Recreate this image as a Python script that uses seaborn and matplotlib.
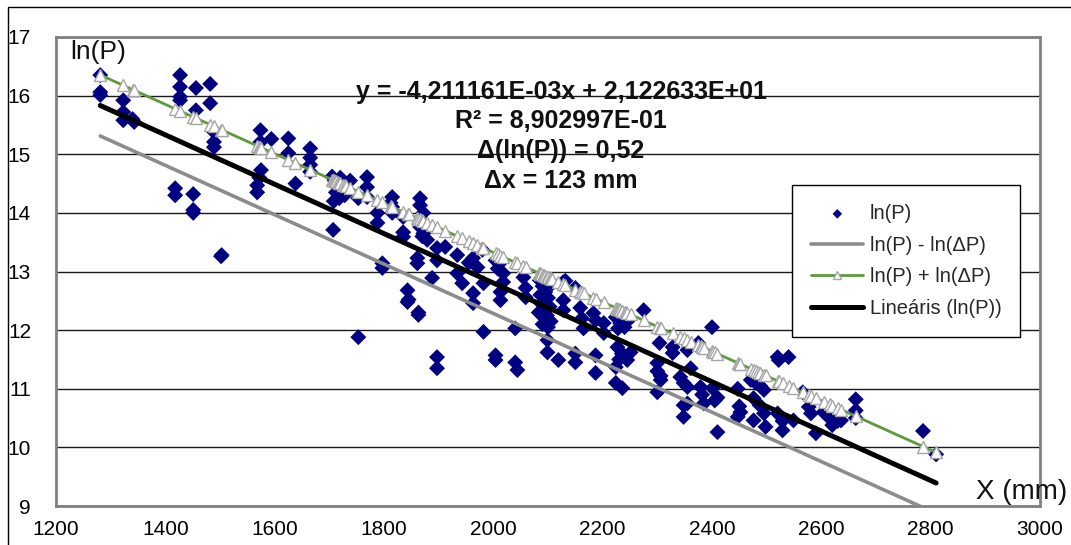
import numpy as np
import pandas as pd
import matplotlib
matplotlib.use("Agg")
import matplotlib.pyplot as plt
import seaborn as sns
from matplotlib.patches import Rectangle

# ---------------- data ----------------
x_mm = [
    1281, 1281, 1281, 1323, 1323, 1323, 1343, 1340,
    1427, 1427, 1427, 1427, 1456, 1456, 1482, 1482,
    1489, 1489, 1489, 1418, 1418, 1451, 1451, 1451, 1502, 1503,
    1574, 1574, 1594, 1625, 1625, 1575, 1568, 1568, 1572, 1638,
    1665, 1665, 1665, 1665,
    1705, 1710, 1715, 1720, 1712, 1725, 1730, 1738, 1718, 1708, 1728,
    1707, 1769, 1769, 1769, 1753, 1753, 1788, 1788, 1797, 1797,
    1815, 1815, 1815, 1812, 1835, 1835, 1835, 1843, 1843, 1845,
    1861, 1861, 1866, 1866, 1872, 1866, 1872, 1879, 1870, 1863, 1863,
    1888, 1897, 1897, 1912, 1897, 1897, 1934, 1934, 1943,
    1980, 1963, 1971, 1955, 1963, 1963, 1982,
    2004, 2008, 2013, 2018, 2018, 2013, 2013, 1982, 2004, 2004,
    2040, 2040, 2044, 2055, 2059, 2059,
    2085, 2090, 2095, 2100, 2088, 2092, 2098, 2105, 2090, 2100, 2086, 2103, 2095, 2108, 2083,
    2099, 2099, 2119, 2128, 2132, 2150, 2128, 2128, 2150, 2150,
    2159, 2162, 2165, 2183, 2187, 2202, 2202, 2187, 2187,
    2224, 2232, 2240, 2245, 2228, 2275,
    2227, 2235, 2242, 2251, 2230, 2245, 2224, 2224, 2236,
    2300, 2300, 2300,
    2400, 2304, 2328, 2328, 2355, 2375, 2306, 2306, 2342, 2348, 2355, 2361,
    2348, 2355, 2348, 2379, 2382, 2385, 2401, 2410, 2405, 2410,
    2520, 2522, 2540, 2447, 2450, 2452, 2447,
    2471, 2480, 2488, 2495, 2485, 2476, 2487, 2495, 2476, 2498,
    2520, 2529, 2529, 2549, 2566, 2577, 2581, 2590,
    2604, 2615, 2620, 2630, 2636, 2663, 2663, 2663, 2786, 2810,
]
ln_p = [
    16.35, 16.06, 16.01, 15.92, 15.72, 15.58, 15.55, 15.60,
    16.35, 16.15, 15.98, 15.92, 16.13, 15.75, 16.20, 15.87,
    15.38, 15.21, 15.12, 14.42, 14.30, 14.32, 14.05, 14.00, 13.26, 13.28,
    15.41, 15.21, 15.26, 15.27, 15.02, 14.73, 14.47, 14.35, 14.60, 14.50,
    15.10, 14.94, 14.82, 14.70,
    14.62, 14.55, 14.45, 14.60, 14.35, 14.40, 14.50, 14.55, 14.25, 14.20, 14.30,
    13.71, 14.61, 14.44, 14.27, 14.25, 11.88, 14.00, 13.83, 13.14, 13.06,
    14.27, 14.10, 14.00, 14.17, 13.93, 13.67, 13.59, 12.68, 12.48, 12.52,
    13.23, 13.14, 14.25, 14.13, 14.00, 13.76, 13.65, 13.54, 13.60, 12.30, 12.26,
    12.89, 13.40, 13.19, 13.42, 11.54, 11.35, 13.28, 12.97, 12.80,
    13.37, 13.23, 13.07, 13.15, 12.63, 12.46, 12.80,
    13.19, 13.05, 13.15, 12.97, 12.82, 12.65, 12.51, 11.97, 11.57, 11.49,
    12.03, 11.45, 11.32, 12.90, 12.72, 12.56,
    12.85, 12.75, 12.65, 12.55, 12.45, 12.35, 12.25, 12.15, 12.10, 12.05, 12.60, 12.40, 12.20, 12.80, 12.30,
    11.83, 11.62, 11.49, 12.82, 12.84, 12.72, 12.51, 12.34, 11.60, 11.45,
    12.38, 12.20, 12.03, 12.29, 12.17, 12.12, 11.95, 11.57, 11.27,
    12.22, 12.12, 12.05, 12.15, 12.03, 12.34,
    11.71, 11.60, 11.55, 11.62, 11.50, 11.49, 11.37, 11.10, 11.01,
    11.44, 11.30, 10.94,
    12.05, 11.78, 11.71, 11.61, 11.66, 11.78, 11.15, 11.22, 11.20, 11.10, 11.03, 11.35,
    10.72, 10.75, 10.52, 11.03, 10.90, 10.75, 11.01, 10.85, 10.80, 10.26,
    11.54, 11.49, 11.54, 11.00, 10.70, 10.60, 10.52,
    11.15, 11.10, 11.05, 10.98, 11.18, 10.84, 10.72, 10.58, 10.46, 10.35,
    10.58, 10.45, 10.29, 10.46, 10.94, 10.69, 10.58, 10.24,
    10.60, 10.50, 10.38, 10.45, 10.46, 10.82, 10.63, 10.50, 10.28, 9.88,
]

trend_slope = [-4.211161e-03]
trend_intercept = [2.122633e+01]
delta_lnp = [0.52]

x_ticks = [1200, 1400, 1600, 1800, 2000, 2200, 2400, 2600, 2800, 3000]
y_ticks = [9, 10, 11, 12, 13, 14, 15, 16, 17]

series_labels = ["ln(P)", "ln(P) - ln(\u0394P)", "ln(P) + ln(\u0394P)", "Line\u00e1ris (ln(P))"]
annotation_lines = [
    "y = -4,211161E-03x + 2,122633E+01",
    "R\u00b2 = 8,902997E-01",
    "\u0394(ln(P)) = 0,52",
    "\u0394x = 123 mm",
]
y_axis_title = "ln(P)"
x_axis_title = "X (mm)"

# ---------------- figure ----------------
sns.set_theme(style="white")
plt.rcParams["font.family"] = ["Liberation Sans", "DejaVu Sans"]

W, H = 1071, 545
fig = plt.figure(figsize=(W / 100, H / 100), dpi=100)
fig.patch.set_facecolor("white")

# chart-area border (only top and left visible in the reference)
fig.add_artist(Rectangle((8 / W, -0.05), 1.2, 1 - 7 / H + 0.05,
                         transform=fig.transFigure, fill=False,
                         edgecolor="black", lw=1.0))

ax = fig.add_axes([56 / W, 1 - 506 / H, (1040 - 56) / W, (506 - 37) / H])

df = pd.DataFrame({"x": x_mm, "y": ln_p})
sns.scatterplot(data=df, x="x", y="y", marker="D", s=66, color="#000080",
                edgecolor="none", linewidth=0, ax=ax, label=series_labels[0], zorder=3)

xs = np.array(sorted(set(x_mm)), dtype=float)
fit = trend_slope[0] * xs + trend_intercept[0]
lines = pd.DataFrame({"x": xs, "fit": fit,
                      "lo": fit - delta_lnp[0], "hi": fit + delta_lnp[0]})

sns.lineplot(data=lines, x="x", y="lo", color="#8C8C8C", lw=2.6, ax=ax,
             label=series_labels[1], zorder=4)
sns.lineplot(data=lines, x="x", y="hi", color="#5E9A3A", lw=2.0, marker="^",
             markersize=9, markerfacecolor="white", markeredgecolor="#A6A6A6",
             markeredgewidth=1.0, ax=ax, label=series_labels[2], zorder=5)
sns.lineplot(data=lines, x="x", y="fit", color="black", lw=3.6, ax=ax,
             label=series_labels[3], zorder=6, solid_capstyle="round")

ax.set_xlim(x_ticks[0], x_ticks[-1])
ax.set_ylim(y_ticks[0], y_ticks[-1])
ax.set_xticks(x_ticks)
ax.set_yticks(y_ticks)
ax.set_xlabel("")
ax.set_ylabel("")
ax.tick_params(axis="both", which="major", labelsize=15, colors="black",
               length=6, width=1.2, direction="out")
ax.tick_params(axis="x", pad=4)
ax.tick_params(axis="y", pad=12)
ax.tick_params(axis="both", color="#808080")

ax.yaxis.grid(True, color="#1a1a1a", lw=1.0)
ax.xaxis.grid(False)
ax.set_axisbelow(True)
for side in ["left", "bottom", "top", "right"]:
    ax.spines[side].set_visible(True)
    ax.spines[side].set_color("#808080")
    ax.spines[side].set_linewidth(2.0)

# texts
ys_px = [92, 121, 151, 181]
for txt, ypx in zip(annotation_lines, ys_px):
    fig.text(561 / W, 1 - ypx / H, txt, ha="center", va="center",
             fontsize=18, fontweight="bold", color="#111111")
fig.text(70 / W, 1 - 52 / H, y_axis_title, ha="left", va="center", fontsize=19, color="#111111")
fig.text(976 / W, 1 - 492 / H, x_axis_title, ha="left", va="center", fontsize=20, color="#111111")

leg = ax.legend(loc="upper left", bbox_to_anchor=(792 / W, 1 - 185 / H),
                bbox_transform=fig.transFigure, frameon=True, fancybox=False,
                edgecolor="black", fontsize=14.5, borderaxespad=0,
                handlelength=2.6, handletextpad=0.3, labelspacing=0.62,
                borderpad=0.95, markerscale=0.6, framealpha=1)
leg.get_frame().set_linewidth(1.0)
leg.set_zorder(10)

fig.savefig("out.png", dpi=100, facecolor="white")
